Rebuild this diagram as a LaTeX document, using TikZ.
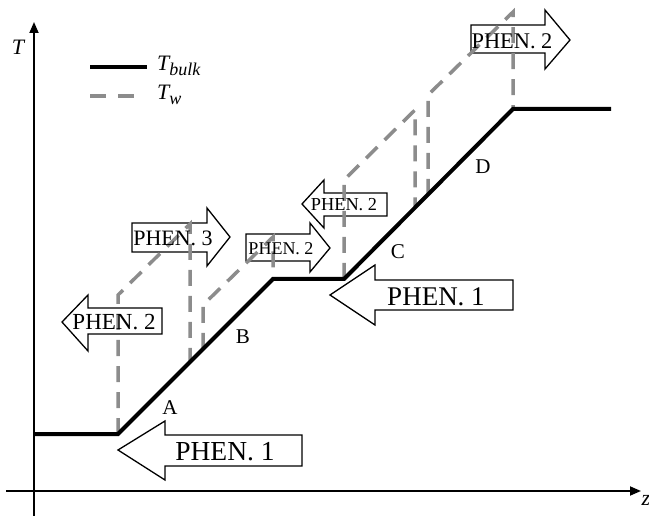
\documentclass[tikz,border=0pt]{standalone}
\usepackage{fontspec}
\setmainfont{Liberation Serif}
\usetikzlibrary{arrows.meta}
\definecolor{twgray}{gray}{0.55}
\begin{document}
\begin{tikzpicture}[x=1pt,y=-1pt,
  bulk/.style={line width=4pt, black, line join=miter},
  wall/.style={line width=3.5pt, draw=twgray, dash pattern=on 16pt off 10pt},
  blockarrow/.style={draw=black, line width=1.3pt, fill=white, line join=miter},
  axis/.style={line width=1.8pt, -{Triangle[length=11pt,width=9pt]}},
  lbl/.style={inner sep=0pt, font=\fontsize{21}{21}\selectfont},
  phen/.style={inner sep=0pt, font=\fontsize{#1}{#1}\selectfont},
]
\useasboundingbox (0,0) rectangle (649,516);

% ---- block arrows (drawn first, lines pass over them)
% lower PHEN. 1 (pointing left)
\draw[blockarrow] (118,450) -- (165,421) -- (165,435) -- (302,435) -- (302,466)
  -- (165,466) -- (165,480) -- cycle;
% middle PHEN. 1 (pointing left)
\draw[blockarrow] (330,295) -- (375,265) -- (375,280) -- (513,280) -- (513,310)
  -- (375,310) -- (375,325) -- cycle;
% left PHEN. 2 (pointing left)
\draw[blockarrow] (62,322) -- (88,295) -- (88,308) -- (162,308) -- (162,334)
  -- (88,334) -- (88,351) -- cycle;
% PHEN. 3 (pointing right)
\draw[blockarrow] (132,223) -- (207,223) -- (207,208) -- (230,237) -- (207,266)
  -- (207,252) -- (132,252) -- cycle;
% middle PHEN. 2 (pointing right)
\draw[blockarrow] (246,234) -- (310,234) -- (310,223) -- (330,248) -- (310,272)
  -- (310,261) -- (246,261) -- cycle;
% upper PHEN. 2 (pointing left)
\draw[blockarrow] (302,204) -- (324,180) -- (324,193) -- (387,193) -- (387,216)
  -- (324,216) -- (324,228) -- cycle;
% top PHEN. 2 (pointing right)
\draw[blockarrow] (471,25) -- (545,25) -- (545,10) -- (570,40) -- (545,69)
  -- (545,53) -- (471,53) -- cycle;

% ---- axes
\coordinate (yb) at (34,516);
\coordinate (yt) at (34,22);
\coordinate (xl) at (6,491);
\coordinate (xr) at (641,491);
\draw[axis] (yb) -- (yt);
\draw[axis] (xl) -- (xr);
\node[inner sep=0pt, font=\fontsize{22}{22}\selectfont\itshape] (Tlab) at (18,47) {T};
\node[inner sep=0pt, font=\fontsize{22}{22}\selectfont\itshape] (zlab) at (646,500) {z};

% ---- wall temperature (dashed)
\coordinate (w1a) at (118,434); \coordinate (w1b) at (118,295);
\coordinate (w1c) at (190,224); \coordinate (w1d) at (190,362);
\coordinate (w2a) at (203,349); \coordinate (w2b) at (203,305);
\coordinate (w2c) at (273,237); \coordinate (w2d) at (273,279);
\coordinate (w3a) at (344,279); \coordinate (w3b) at (344,180);
\coordinate (w3c) at (415,110); \coordinate (w3d) at (415,208);
\coordinate (w4a) at (428,195); \coordinate (w4b) at (428,95);
\coordinate (w4c) at (513,12);  \coordinate (w4d) at (513,109);
\draw[wall] (w1a) -- (w1b) -- (w1c) -- (w1d);
\draw[wall] (w2a) -- (w2b) -- (w2c) -- (w2d);
\draw[wall] (w3a) -- (w3b) -- (w3c) -- (w3d);
\draw[wall] (w4a) -- (w4b) -- (w4c) -- (w4d);

% ---- bulk temperature (solid)
\coordinate (b0) at (34,434);
\coordinate (b1) at (118,434);
\coordinate (b2) at (273,279);
\coordinate (b3) at (344,279);
\coordinate (b4) at (513,109);
\coordinate (b5) at (611,109);
\draw[bulk] (b0) -- (b1) -- (b2) -- (b3) -- (b4) -- (b5);

% ---- legend
\coordinate (lb1) at (90,67);  \coordinate (lb2) at (147,67);
\coordinate (lw1) at (90,96);  \coordinate (lw2) at (135,96);
\draw[bulk] (lb1) -- (lb2);
\draw[wall, dash pattern=on 16pt off 12pt] (lw1) -- (lw2);
\node[anchor=west, inner sep=0pt, font=\fontsize{22}{22}\selectfont\itshape]
  (legb) at (157,66) {T\raisebox{-5pt}{\fontsize{18}{18}\selectfont bulk}};
\node[anchor=west, inner sep=0pt, font=\fontsize{22}{22}\selectfont\itshape]
  (legw) at (157,95) {T\raisebox{-5pt}{\fontsize{18}{18}\selectfont w}};

% ---- segment labels
\node[lbl] (lA) at (170,408) {A};
\node[lbl] (lB) at (243,337) {B};
\node[lbl] (lC) at (398,252) {C};
\node[lbl] (lD) at (483,167) {D};

% ---- arrow texts
\node[phen=27.5] (p1a) at (225,452) {PHEN. 1};
\node[phen=27]   (p1b) at (436,297) {PHEN. 1};
\node[phen=23]   (p2a) at (114,322) {PHEN. 2};
\node[phen=22]   (p3)  at (173,238) {PHEN. 3};
\node[phen=18]   (p2b) at (281,249) {PHEN. 2};
\node[phen=18.3] (p2c) at (344,205) {PHEN. 2};
\node[phen=22.4] (p2d) at (512,41)  {PHEN. 2};
\end{tikzpicture}
\end{document}
